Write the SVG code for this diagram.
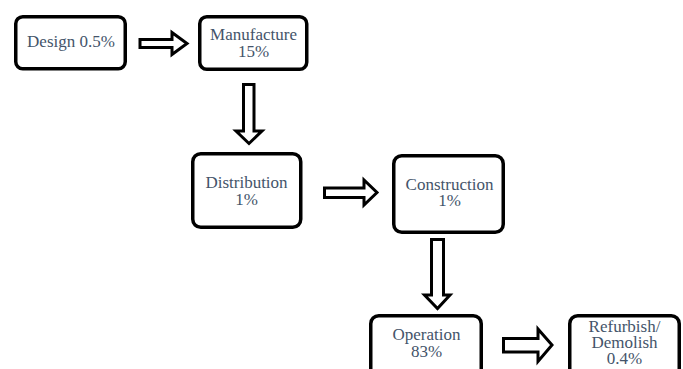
<svg xmlns="http://www.w3.org/2000/svg" width="683" height="369" viewBox="0 0 683 369">
  <style>
    .box { fill: #ffffff; stroke: #000000; stroke-width: 3.5; }
    .lbl { font-family: "Liberation Serif", "Times New Roman", serif; font-size: 17px; fill: #44546A; text-anchor: middle; }
    .arr { fill: #ffffff; stroke: #000000; stroke-width: 3; stroke-linejoin: miter; }
  </style>
  <rect width="683" height="369" fill="#ffffff"/>
  <g id="connectors">
    <polygon class="arr" points="140,39.5 172,39.5 172,32.5 187,43.5 172,54.5 172,47.5 140,47.5"/>
    <polygon class="arr" points="243.5,84.5 254,84.5 254,131 262,131 249,143.5 236,131 243.5,131"/>
    <polygon class="arr" points="324.5,188 364,188 364,180 377,192.5 364,205 364,197.5 324.5,197.5"/>
    <polygon class="arr" points="431.5,239.5 443.5,239.5 443.5,295 450,295 437.5,308.5 424.5,295 431.5,295"/>
    <polygon class="arr" points="503.5,338.5 538,338.5 538,329 552,345 538,361.5 538,352 503.5,352"/>
  </g>
  <g id="design">
    <rect class="box" x="15.75" y="16.75" width="109.5" height="52" rx="7"/>
    <text class="lbl" x="71" y="47">Design 0.5%</text>
  </g>
  <g id="manufacture">
    <rect class="box" x="199.75" y="16.75" width="107" height="52.5" rx="7"/>
    <text class="lbl" x="253.5" y="40">Manufacture</text>
    <text class="lbl" x="253.5" y="56.5">15%</text>
  </g>
  <g id="distribution">
    <rect class="box" x="192.75" y="153.75" width="108" height="73.5" rx="8"/>
    <text class="lbl" x="246.5" y="188">Distribution</text>
    <text class="lbl" x="246.5" y="204.5">1%</text>
  </g>
  <g id="construction">
    <rect class="box" x="393.75" y="155.75" width="109.5" height="76.5" rx="8"/>
    <text class="lbl" x="449.5" y="189.5">Construction</text>
    <text class="lbl" x="449.5" y="206">1%</text>
  </g>
  <g id="operation">
    <rect class="box" x="370.75" y="315.75" width="110.5" height="80" rx="8"/>
    <text class="lbl" x="426.5" y="340">Operation</text>
    <text class="lbl" x="426.5" y="356.5">83%</text>
  </g>
  <g id="refurbish">
    <rect class="box" x="569.75" y="315.75" width="109.5" height="80" rx="8"/>
    <text class="lbl" x="624.5" y="332">Refurbish/</text>
    <text class="lbl" x="624.5" y="347.5">Demolish</text>
    <text class="lbl" x="624.5" y="363.5">0.4%</text>
  </g>
</svg>
